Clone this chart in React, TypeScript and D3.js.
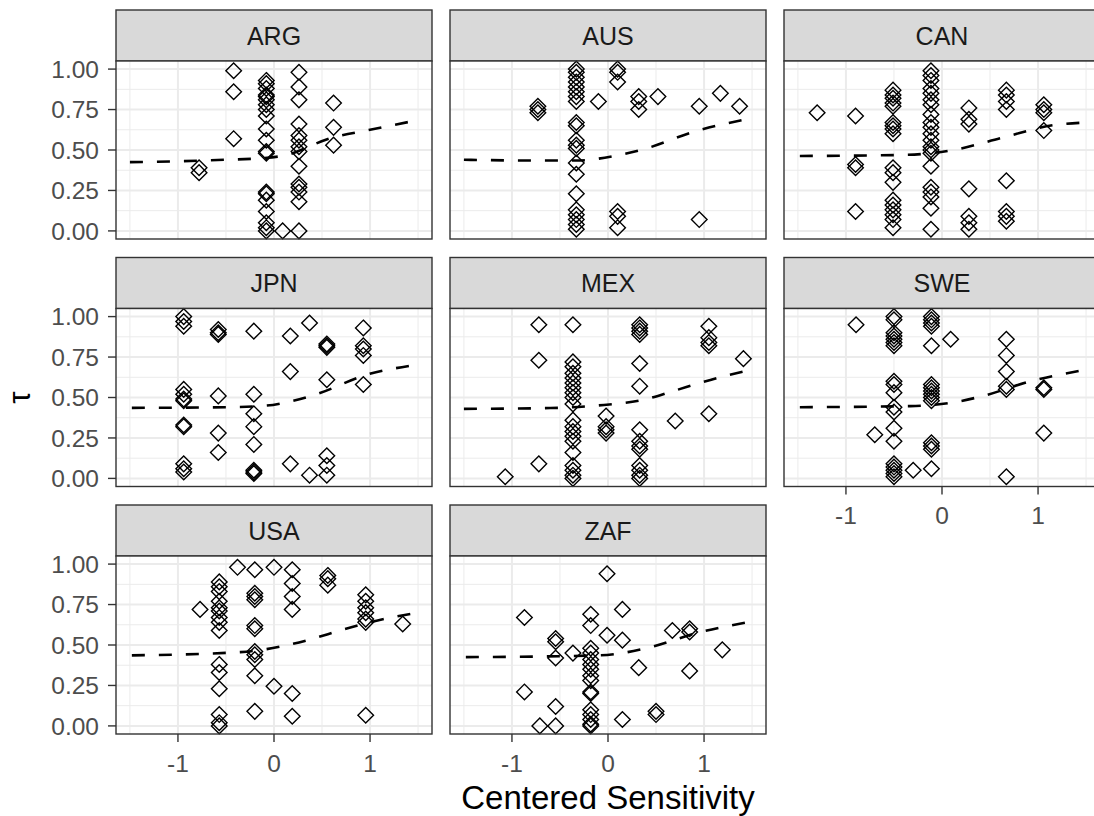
import React from 'react';
import * as d3 from 'd3';

type Group = { x: number; y: number[] };

const COUNTRIES = ['ARG', 'AUS', 'CAN', 'JPN', 'MEX', 'SWE', 'USA', 'ZAF'];
const Y_TICKS = [0, 0.25, 0.5, 0.75, 1];
const Y_MINOR = [0.125, 0.375, 0.625, 0.875];
const X_TICKS = [-1, 0, 1];
const X_MINOR = [-1.5, -0.5, 0.5, 1.5];
const X_TITLE = 'Centered Sensitivity';
const Y_TITLE = 'τ';

// observed points, grouped by sensitivity value
const ARG_POINTS: Group[] = [
  { x: -0.78, y: [0.39, 0.36] },
  { x: -0.42, y: [0.99, 0.86, 0.57] },
  { x: -0.08, y: [0.93, 0.91, 0.88, 0.84, 0.83, 0.81, 0.78, 0.75, 0.71, 0.63, 0.56, 0.49, 0.48, 0.24, 0.23, 0.19, 0.12, 0.05, 0.02, 0.0] },
  { x: 0.09, y: [0.0] },
  { x: 0.26, y: [0.98, 0.89, 0.81, 0.66, 0.59, 0.56, 0.52, 0.49, 0.4, 0.29, 0.27, 0.24, 0.18, 0.0] },
  { x: 0.62, y: [0.79, 0.64, 0.53] },
];
const AUS_POINTS: Group[] = [
  { x: -0.73, y: [0.77, 0.75, 0.73] },
  { x: -0.33, y: [1.0, 0.98, 0.95, 0.92, 0.89, 0.86, 0.83, 0.8, 0.67, 0.65, 0.56, 0.53, 0.51, 0.42, 0.35, 0.23, 0.13, 0.1, 0.07, 0.04, 0.01] },
  { x: -0.1, y: [0.8] },
  { x: 0.1, y: [1.0, 0.98, 0.92, 0.12, 0.09, 0.02] },
  { x: 0.32, y: [0.83, 0.8, 0.75] },
  { x: 0.52, y: [0.83] },
  { x: 0.95, y: [0.77, 0.07] },
  { x: 1.17, y: [0.85] },
  { x: 1.37, y: [0.77] },
];
const CAN_POINTS: Group[] = [
  { x: -1.3, y: [0.73] },
  { x: -0.9, y: [0.71, 0.41, 0.39, 0.12] },
  { x: -0.51, y: [0.87, 0.84, 0.82, 0.79, 0.77, 0.67, 0.65, 0.63, 0.6, 0.39, 0.36, 0.3, 0.19, 0.16, 0.13, 0.1, 0.07, 0.02] },
  { x: -0.115, y: [0.99, 0.96, 0.93, 0.88, 0.85, 0.81, 0.78, 0.72, 0.67, 0.64, 0.6, 0.56, 0.52, 0.5, 0.48, 0.4, 0.27, 0.24, 0.21, 0.14, 0.01] },
  { x: 0.28, y: [0.76, 0.69, 0.66, 0.26, 0.09, 0.05, 0.01] },
  { x: 0.67, y: [0.87, 0.84, 0.8, 0.75, 0.31, 0.12, 0.09, 0.06] },
  { x: 1.06, y: [0.78, 0.75, 0.73, 0.62] },
];
const JPN_POINTS: Group[] = [
  { x: -0.94, y: [1.0, 0.97, 0.94, 0.55, 0.52, 0.49, 0.48, 0.33, 0.32, 0.09, 0.06, 0.04] },
  { x: -0.58, y: [0.92, 0.9, 0.89, 0.51, 0.28, 0.16] },
  { x: -0.21, y: [0.91, 0.52, 0.4, 0.32, 0.21, 0.05, 0.04, 0.03] },
  { x: 0.17, y: [0.88, 0.66, 0.09] },
  { x: 0.37, y: [0.96, 0.02] },
  { x: 0.55, y: [0.83, 0.82, 0.81, 0.61, 0.14, 0.08, 0.02] },
  { x: 0.93, y: [0.93, 0.82, 0.8, 0.76, 0.58] },
];
const MEX_POINTS: Group[] = [
  { x: -1.07, y: [0.01] },
  { x: -0.72, y: [0.95, 0.73, 0.09] },
  { x: -0.365, y: [0.95, 0.72, 0.69, 0.65, 0.62, 0.59, 0.56, 0.53, 0.5, 0.46, 0.36, 0.32, 0.29, 0.26, 0.23, 0.16, 0.08, 0.05, 0.02, 0.0] },
  { x: -0.02, y: [0.385, 0.32, 0.3, 0.28] },
  { x: 0.33, y: [0.95, 0.93, 0.91, 0.89, 0.71, 0.57, 0.3, 0.23, 0.2, 0.18, 0.08, 0.05, 0.02, 0.0] },
  { x: 0.7, y: [0.355] },
  { x: 1.05, y: [0.94, 0.87, 0.84, 0.82, 0.4] },
  { x: 1.41, y: [0.74] },
];
const SWE_POINTS: Group[] = [
  { x: -0.895, y: [0.95] },
  { x: -0.7, y: [0.27] },
  { x: -0.5, y: [1.0, 0.98, 0.9, 0.88, 0.86, 0.84, 0.82, 0.6, 0.58, 0.53, 0.44, 0.41, 0.31, 0.23, 0.09, 0.07, 0.05, 0.03, 0.01] },
  { x: -0.3, y: [0.05] },
  { x: -0.11, y: [1.0, 0.98, 0.96, 0.94, 0.82, 0.58, 0.56, 0.54, 0.52, 0.5, 0.48, 0.22, 0.2, 0.18, 0.06] },
  { x: 0.09, y: [0.86] },
  { x: 0.67, y: [0.86, 0.76, 0.66, 0.57, 0.55, 0.01] },
  { x: 1.06, y: [0.56, 0.55, 0.28] },
];
const USA_POINTS: Group[] = [
  { x: -0.77, y: [0.72] },
  { x: -0.57, y: [0.89, 0.86, 0.83, 0.77, 0.73, 0.71, 0.67, 0.64, 0.59, 0.38, 0.33, 0.23, 0.07, 0.02, 0.0] },
  { x: -0.38, y: [0.98] },
  { x: -0.2, y: [0.965, 0.82, 0.8, 0.78, 0.62, 0.6, 0.46, 0.44, 0.41, 0.31, 0.09] },
  { x: 0.0, y: [0.98, 0.245] },
  { x: 0.19, y: [0.965, 0.88, 0.8, 0.72, 0.2, 0.06] },
  { x: 0.56, y: [0.93, 0.91, 0.87] },
  { x: 0.955, y: [0.81, 0.77, 0.73, 0.7, 0.66, 0.64, 0.066] },
  { x: 1.34, y: [0.63] },
];
const ZAF_POINTS: Group[] = [
  { x: -0.87, y: [0.67, 0.21] },
  { x: -0.71, y: [0.0] },
  { x: -0.545, y: [0.54, 0.52, 0.42, 0.12, 0.0] },
  { x: -0.365, y: [0.45] },
  { x: -0.18, y: [0.69, 0.62, 0.48, 0.45, 0.41, 0.38, 0.35, 0.31, 0.28, 0.21, 0.2, 0.1, 0.07, 0.04, 0.01, 0.0] },
  { x: -0.01, y: [0.94, 0.56] },
  { x: 0.15, y: [0.72, 0.53, 0.04] },
  { x: 0.32, y: [0.36] },
  { x: 0.5, y: [0.09, 0.07] },
  { x: 0.67, y: [0.59] },
  { x: 0.85, y: [0.6, 0.58, 0.34] },
  { x: 1.19, y: [0.47] },
];

// fitted curves
const ARG_FIT: [number, number][] = [[-1.5, 0.425], [-1, 0.43], [-0.5, 0.44], [-0.1, 0.45], [0.1, 0.465], [0.6, 0.575], [1.0, 0.625], [1.46, 0.68]];
const AUS_FIT: [number, number][] = [[-1.5, 0.44], [-0.8, 0.435], [-0.33, 0.435], [0.12, 0.47], [0.4, 0.51], [0.88, 0.61], [1.48, 0.695]];
const CAN_FIT: [number, number][] = [[-1.48, 0.463], [-0.37, 0.47], [0.12, 0.5], [0.64, 0.578], [1.16, 0.654], [1.48, 0.669]];
const JPN_FIT: [number, number][] = [[-1.48, 0.436], [-0.5, 0.44], [-0.08, 0.45], [0.2, 0.48], [0.44, 0.52], [0.96, 0.64], [1.46, 0.7]];
const MEX_FIT: [number, number][] = [[-1.5, 0.43], [-0.6, 0.435], [-0.12, 0.45], [0.4, 0.49], [0.68, 0.54], [1.2, 0.63], [1.48, 0.67]];
const SWE_FIT: [number, number][] = [[-1.48, 0.44], [-0.33, 0.447], [0.09, 0.467], [0.43, 0.51], [0.92, 0.6], [1.48, 0.67]];
const USA_FIT: [number, number][] = [[-1.48, 0.436], [-0.35, 0.456], [0.13, 0.498], [0.41, 0.54], [0.69, 0.59], [1.2, 0.668], [1.46, 0.695]];
const ZAF_FIT: [number, number][] = [[-1.48, 0.425], [-0.09, 0.436], [0.4, 0.48], [0.96, 0.58], [1.48, 0.643]];

const POINTS: Record<string, Group[]> = {
  ARG: ARG_POINTS, AUS: AUS_POINTS, CAN: CAN_POINTS, JPN: JPN_POINTS,
  MEX: MEX_POINTS, SWE: SWE_POINTS, USA: USA_POINTS, ZAF: ZAF_POINTS,
};
const FITS: Record<string, [number, number][]> = {
  ARG: ARG_FIT, AUS: AUS_FIT, CAN: CAN_FIT, JPN: JPN_FIT,
  MEX: MEX_FIT, SWE: SWE_FIT, USA: USA_FIT, ZAF: ZAF_FIT,
};

const W = 1094;
const H = 816;
const FONT = '"Liberation Sans", Arial, Helvetica, sans-serif';
const NCOL = 3;
const panelW = 316;
const panelH = 178;
const stripH = 51;
const left0 = 116;
const colStep = 334;
const top0 = 61;
const rowStep = 247.5;

const x = d3.scaleLinear().domain([-1.645, 1.645]).range([0, panelW]);
const y = d3.scaleLinear().domain([-0.05, 1.05]).range([panelH, 0]);
const line = d3
  .line<[number, number]>()
  .x(d => x(d[0]))
  .y(d => y(d[1]))
  .curve(d3.curveMonotoneX);
const fmt = d3.format('.2f');
const R = 7.8;
const diamond = `M0,${-R}L${R},0L0,${R}L${-R},0Z`;

function Panel({ name, i }: { name: string; i: number }) {
  const col = i % NCOL;
  const row = Math.floor(i / NCOL);
  const px = left0 + col * colStep;
  const py = top0 + row * rowStep;
  const n = COUNTRIES.length;
  const bottomOfCol = i + NCOL >= n;
  const pts = POINTS[name].flatMap(g => g.y.map(v => [g.x, v] as [number, number]));

  return (
    <g transform={`translate(${px},${py})`}>
      {/* strip */}
      <rect x={0} y={-stripH} width={panelW} height={stripH} fill="#D9D9D9" stroke="#333333" strokeWidth={1.4} />
      <text x={panelW / 2} y={-stripH / 2} dy="0.36em" textAnchor="middle" fontSize={25} fill="#1A1A1A">{name}</text>
      {/* panel */}
      <rect x={0} y={0} width={panelW} height={panelH} fill="#FFFFFF" />
      {Y_MINOR.map(t => <line key={'ym' + t} x1={0} x2={panelW} y1={y(t)} y2={y(t)} stroke="#EBEBEB" strokeWidth={1} />)}
      {X_MINOR.map(t => <line key={'xm' + t} x1={x(t)} x2={x(t)} y1={0} y2={panelH} stroke="#EBEBEB" strokeWidth={1} />)}
      {Y_TICKS.map(t => <line key={'y' + t} x1={0} x2={panelW} y1={y(t)} y2={y(t)} stroke="#EBEBEB" strokeWidth={2} />)}
      {X_TICKS.map(t => <line key={'x' + t} x1={x(t)} x2={x(t)} y1={0} y2={panelH} stroke="#EBEBEB" strokeWidth={2} />)}
      {pts.map((p, k) => (
        <path key={k} d={diamond} transform={`translate(${x(p[0])},${y(p[1])})`} fill="none" stroke="#000" strokeWidth={1.4} />
      ))}
      <path d={line(FITS[name]) || ''} fill="none" stroke="#000" strokeWidth={2.6} strokeDasharray="13 14" />
      <rect x={0} y={0} width={panelW} height={panelH} fill="none" stroke="#333333" strokeWidth={1.4} />
      {col === 0 && Y_TICKS.map(t => (
        <g key={'yt' + t} transform={`translate(0,${y(t)})`}>
          <line x1={-8} x2={0} stroke="#333333" strokeWidth={1.4} />
          <text x={-17} dy="0.36em" textAnchor="end" fontSize={24.5} fill="#4D4D4D">{fmt(t)}</text>
        </g>
      ))}
      {bottomOfCol && X_TICKS.map(t => (
        <g key={'xt' + t} transform={`translate(${x(t)},${panelH})`}>
          <line y1={0} y2={8} stroke="#333333" strokeWidth={1.4} />
          <text y={29} dy="0.36em" textAnchor="middle" fontSize={24.5} fill="#4D4D4D">{String(t)}</text>
        </g>
      ))}
    </g>
  );
}

export default function App() {
  const nRows = Math.ceil(COUNTRIES.length / NCOL);
  const panelsTop = top0;
  const panelsBottom = top0 + (nRows - 1) * rowStep + panelH;
  return (
    <svg width={W} height={H} style={{ position: 'absolute', left: 0, top: 0, background: '#fff' }} fontFamily={FONT}>
      <rect width={W} height={H} fill="#fff" />
      {COUNTRIES.map((c, i) => <Panel key={c} name={c} i={i} />)}
      <text x={left0 + (NCOL * colStep - (colStep - panelW)) / 2} y={797} dy="0.36em" textAnchor="middle" fontSize={33} fill="#000">{X_TITLE}</text>
      <text transform={`translate(19,${(panelsTop + panelsBottom) / 2}) rotate(-90)`} dy="0.36em" textAnchor="middle" fontSize={31} fill="#000">{Y_TITLE}</text>
    </svg>
  );
}
